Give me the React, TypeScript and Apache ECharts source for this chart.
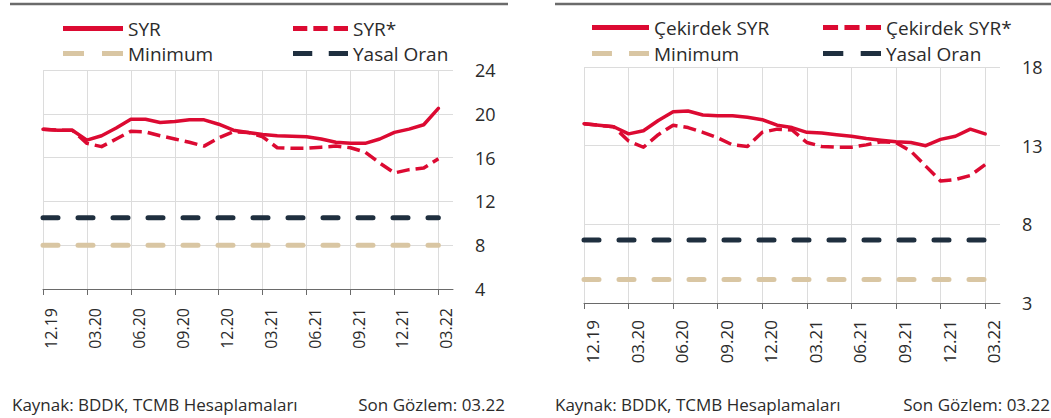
import React, { useEffect, useRef } from "react";
import * as echarts from "echarts";

// ---------- data ----------
const months = [
  "12.19", "01.20", "02.20", "03.20", "04.20", "05.20", "06.20", "07.20", "08.20", "09.20",
  "10.20", "11.20", "12.20", "01.21", "02.21", "03.21", "04.21", "05.21", "06.21", "07.21",
  "08.21", "09.21", "10.21", "11.21", "12.21", "01.22", "02.22", "03.22", "",
];

const syr = [
  18.6, 18.5, 18.5, 17.6, 18.0, 18.7, 19.5, 19.5, 19.2, 19.3,
  19.45, 19.45, 19.05, 18.5, 18.3, 18.1, 18.0, 17.95, 17.9, 17.7,
  17.4, 17.3, 17.3, 17.7, 18.3, 18.6, 19.0, 20.5,
];
const syrStar = [
  18.6, 18.5, 18.5, 17.3, 17.0, 17.7, 18.4, 18.35, 18.0, 17.7,
  17.4, 17.05, 17.8, 18.35, 18.3, 17.9, 16.9, 16.85, 16.85, 16.95,
  17.05, 16.9, 16.5, 15.5, 14.6, 14.9, 15.05, 15.9,
];
const minimumLeft = [
  8, 8, 8, 8, 8, 8, 8, 8, 8, 8, 8, 8, 8, 8, 8, 8, 8, 8, 8, 8, 8, 8, 8, 8, 8, 8, 8, 8,
];
const yasalLeft = [
  10.5, 10.5, 10.5, 10.5, 10.5, 10.5, 10.5, 10.5, 10.5, 10.5, 10.5, 10.5, 10.5, 10.5,
  10.5, 10.5, 10.5, 10.5, 10.5, 10.5, 10.5, 10.5, 10.5, 10.5, 10.5, 10.5, 10.5, 10.5,
];

const cekirdek = [
  14.4, 14.3, 14.2, 13.75, 13.95, 14.6, 15.15, 15.2, 14.95, 14.9,
  14.9, 14.8, 14.65, 14.3, 14.15, 13.85, 13.8, 13.7, 13.6, 13.45,
  13.35, 13.25, 13.2, 13.0, 13.4, 13.6, 14.05, 13.75,
];
const cekirdekStar = [
  14.4, 14.3, 14.2, 13.3, 12.9, 13.7, 14.3, 14.15, 13.85, 13.5,
  13.05, 12.95, 13.85, 14.05, 14.0, 13.2, 12.95, 12.9, 12.9, 13.05,
  13.25, 13.2, 12.65, 11.7, 10.75, 10.85, 11.1, 11.8,
];
const minimumRight = [
  4.5, 4.5, 4.5, 4.5, 4.5, 4.5, 4.5, 4.5, 4.5, 4.5, 4.5, 4.5, 4.5, 4.5,
  4.5, 4.5, 4.5, 4.5, 4.5, 4.5, 4.5, 4.5, 4.5, 4.5, 4.5, 4.5, 4.5, 4.5,
];
const yasalRight = [
  7, 7, 7, 7, 7, 7, 7, 7, 7, 7, 7, 7, 7, 7, 7, 7, 7, 7, 7, 7, 7, 7, 7, 7, 7, 7, 7, 7,
];

const leftTicks = { min: 4, max: 24, interval: 4 };
const rightTicks = { min: 3, max: 18, interval: 5 };

const sourceText = "Kaynak: BDDK, TCMB Hesaplamaları";
const lastObsText = "Son Gözlem: 03.22";

// ---------- styles ----------
const RED = "#dc0a32";
const NAVY = "#1f2f3f";
const TAN = "#d9c6a3";
const GRID = "#dcdcdc";
const AXIS = "#6a6a6a";
const TEXT = "#2b2b2b";
const FONT = "Open Sans";

const H = 5;
const solidIcon = (w: number) => `path://M0,0H${w}V${H}H0Z`;
const dash3Icon = (w: number) => {
  const d = w * 0.26;
  const g = (w - 3 * d) / 2;
  return `path://M0,0H${d}V${H}H0Z M${d + g},0H${2 * d + g}V${H}H${d + g}Z M${w - d},0H${w}V${H}H${w - d}Z`;
};
const dash2Icon = (w: number) => {
  const d = w * 0.35;
  return `path://M0,0H${d}V${H}H0Z M${w - d},0H${w}V${H}H${w - d}Z`;
};

function legendItem(name: string, icon: string, left: number, top: number, w: number) {
  return {
    data: [{ name, icon }],
    left,
    top,
    itemWidth: w,
    itemHeight: H,
    padding: 0,
    selectedMode: false,
    itemStyle: { borderWidth: 0 },
    textStyle: { fontSize: 19, color: TEXT, fontFamily: FONT },
  };
}

function lineSeries(
  name: string,
  data: number[],
  idx: number,
  color: string,
  width: number,
  type: any,
  cap: string = "butt",
) {
  return {
    name,
    type: "line",
    xAxisIndex: idx,
    yAxisIndex: idx,
    data,
    symbol: "none",
    showSymbol: false,
    color,
    itemStyle: { color },
    lineStyle: { color, width, type, cap, join: "round" },
    emphasis: { disabled: true },
    z: 3,
  };
}

function xAxisFor(idx: number, fontSize: number, margin: number) {
  return {
    type: "category",
    gridIndex: idx,
    data: months,
    boundaryGap: false,
    axisLine: { lineStyle: { color: AXIS, width: 1 } },
    axisTick: { interval: 2, length: 6, lineStyle: { color: AXIS } },
    axisLabel: {
      interval: 2,
      rotate: 90,
      fontSize,
      color: TEXT,
      fontFamily: FONT,
      margin,
      verticalAlign: "top",
    },
    splitLine: { show: true, interval: 2, lineStyle: { color: GRID, width: 1 } },
  };
}

function yAxisFor(idx: number, t: { min: number; max: number; interval: number }) {
  return {
    type: "value",
    gridIndex: idx,
    position: "right",
    min: t.min,
    max: t.max,
    interval: t.interval,
    axisLine: { show: false },
    axisTick: { show: false },
    axisLabel: { margin: 22, fontSize: 18, color: TEXT, fontFamily: FONT },
    splitLine: { lineStyle: { color: GRID, width: 1 } },
  };
}

function footer(text: string, x: number, align: string) {
  return {
    type: "text",
    x,
    y: 404,
    style: { text, fontSize: 17, fontFamily: FONT, fill: TEXT, verticalAlign: "middle", align },
  };
}

export default function App() {
  const ref = useRef<HTMLDivElement>(null);
  useEffect(() => {
    if (!ref.current) return;
    const chart = echarts.init(ref.current, null, { renderer: "svg" });
    const option: any = {
      animation: false,
      textStyle: { fontFamily: FONT },
      graphic: [
        { type: "line", shape: { x1: 10, y1: 4, x2: 508, y2: 4 }, style: { stroke: "#6b6b6b", lineWidth: 2.5 } },
        { type: "line", shape: { x1: 555, y1: 4, x2: 1051, y2: 4 }, style: { stroke: "#6b6b6b", lineWidth: 2.5 } },
        footer(sourceText, 12, "left"),
        footer(lastObsText, 505, "right"),
        footer(sourceText, 555, "left"),
        footer(lastObsText, 1050, "right"),
      ],
      legend: [
        legendItem("SYR", solidIcon(60), 63, 19, 60),
        legendItem("SYR*", dash3Icon(55), 293, 19, 55),
        legendItem("Minimum", dash2Icon(60), 63, 44, 60),
        legendItem("Yasal Oran", dash2Icon(55), 293, 44, 55),
        legendItem("Çekirdek SYR", solidIcon(57), 592, 18, 57),
        legendItem("Çekirdek SYR*", dash3Icon(58), 823, 18, 58),
        legendItem("Minimum", dash2Icon(57), 592, 44, 57),
        legendItem("Yasal Oran", dash2Icon(58), 823, 44, 58),
      ],
      grid: [
        { left: 43, top: 70, width: 410, height: 219 },
        { left: 584, top: 67, width: 416, height: 236 },
      ],
      xAxis: [xAxisFor(0, 16, 19), xAxisFor(1, 17, 17)],
      yAxis: [yAxisFor(0, leftTicks), yAxisFor(1, rightTicks)],
      series: [
        lineSeries("Minimum", minimumLeft, 0, TAN, 5, [15, 20], "round"),
        lineSeries("Yasal Oran", yasalLeft, 0, NAVY, 5, [15, 20], "round"),
        lineSeries("SYR*", syrStar, 0, RED, 3.5, [13, 6]),
        lineSeries("SYR", syr, 0, RED, 3.5, "solid", "round"),
        lineSeries("Minimum", minimumRight, 1, TAN, 5, [15, 20], "round"),
        lineSeries("Yasal Oran", yasalRight, 1, NAVY, 5, [15, 20], "round"),
        lineSeries("Çekirdek SYR*", cekirdekStar, 1, RED, 3.5, [13, 6]),
        lineSeries("Çekirdek SYR", cekirdek, 1, RED, 3.5, "solid", "round"),
      ],
    };
    chart.setOption(option);
    return () => chart.dispose();
  }, []);
  return (
    <div
      ref={ref}
      style={{ position: "fixed", left: 0, top: 0, width: 1051, height: 418, background: "#fff" }}
    />
  );
}
